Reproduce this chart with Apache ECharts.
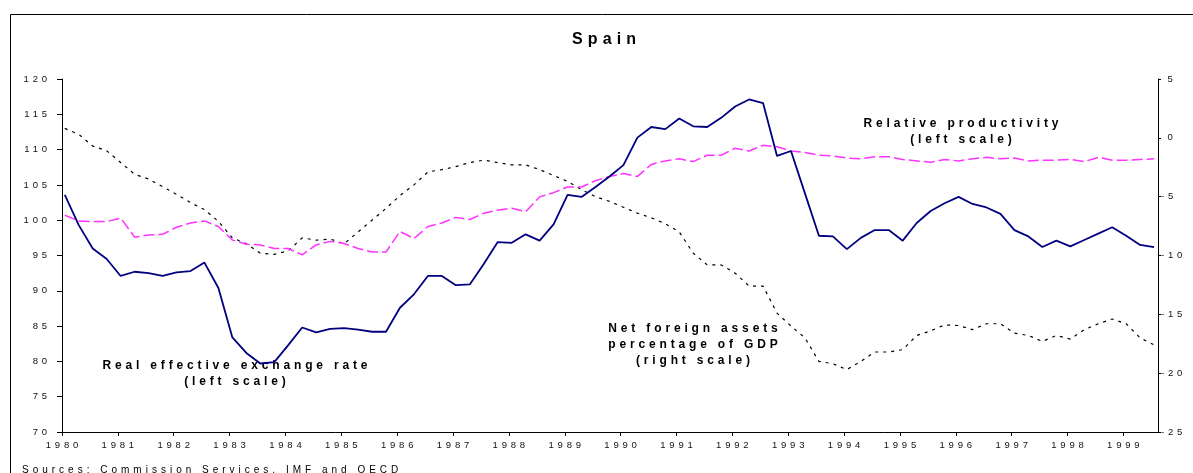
<!DOCTYPE html>
<html>
<head>
<meta charset="utf-8">
<script src="https://cdn.jsdelivr.net/npm/echarts@6/dist/echarts.min.js"></script>
<style>
html,body{margin:0;padding:0;background:#fff;}
#chart{width:1193px;height:473px;}
</style>
</head>
<body>
<div id="chart"></div>
<script>
// ---- Data (quarterly, 1980Q1 .. 1999Q3) ----
const startYear = 1980;
const quarterCount = 79;
const quarters = Array.from({length: quarterCount}, (_, i) => (startYear + Math.floor(i / 4)) + 'Q' + (i % 4 + 1));

// Real effective exchange rate (left scale)
const reer = [
  103.6, 99.3, 96.0, 94.5, 92.1, 92.7, 92.5, 92.1, 92.6, 92.8, 94.0, 90.4,
  83.4, 81.2, 79.7, 79.9, 82.3, 84.8, 84.1, 84.6, 84.7, 84.5, 84.2, 84.2,
  87.6, 89.5, 92.1, 92.1, 90.8, 90.9, 93.8, 96.9, 96.8, 98.0, 97.1, 99.4,
  103.6, 103.3, 104.7, 106.2, 107.8, 111.7, 113.2, 112.9, 114.4, 113.3, 113.2, 114.5,
  116.1, 117.1, 116.6, 109.1, 109.8, 103.8, 97.8, 97.7, 95.9, 97.5, 98.6, 98.6,
  97.1, 99.6, 101.3, 102.4, 103.3, 102.3, 101.8, 100.9, 98.6, 97.7, 96.2, 97.1,
  96.3, 97.2, 98.1, 99.0, 97.8, 96.5, 96.2
];

// Relative productivity (left scale)
const productivity = [
  100.7, 99.9, 99.8, 99.8, 100.3, 97.6, 97.9, 98.0, 99.0, 99.6, 99.9, 99.1,
  97.2, 96.6, 96.5, 96.0, 96.0, 95.1, 96.5, 97.0, 96.7, 96.0, 95.5, 95.5,
  98.4, 97.4, 99.1, 99.6, 100.4, 100.1, 101.0, 101.4, 101.7, 101.2, 103.3, 103.9,
  104.7, 104.7, 105.6, 106.2, 106.6, 106.2, 107.9, 108.4, 108.7, 108.3, 109.2, 109.2,
  110.2, 109.8, 110.6, 110.4, 109.8, 109.6, 109.2, 109.1, 108.8, 108.7, 109.0, 109.0,
  108.6, 108.4, 108.2, 108.6, 108.4, 108.7, 108.9, 108.7, 108.8, 108.4, 108.5, 108.5,
  108.6, 108.3, 108.9, 108.5, 108.5, 108.6, 108.7
];

// Net foreign assets, % of GDP (right scale)
const netForeignAssets = [
  0.8, 0.3, -0.7, -1.1, -2.1, -3.1, -3.5, -4.15, -4.8, -5.5, -6.1, -7.1,
  -8.5, -9.0, -9.8, -9.9, -9.6, -8.5, -8.7, -8.6, -9.0, -8.0, -7.0, -6.0,
  -4.9, -4.0, -2.9, -2.7, -2.45, -2.1, -1.9, -2.1, -2.3, -2.3, -2.7, -3.2,
  -3.7, -4.4, -5.0, -5.4, -5.9, -6.4, -6.8, -7.3, -8.0, -9.8, -10.8, -10.8,
  -11.5, -12.6, -12.6, -14.9, -16.0, -17.0, -19.0, -19.2, -19.7, -19.0, -18.2, -18.2,
  -18.0, -16.8, -16.4, -15.9, -15.95, -16.3, -15.8, -15.8, -16.6, -16.8, -17.3, -16.8,
  -17.1, -16.3, -15.8, -15.4, -15.8, -17.0, -17.6
];

// Axis ticks
const yearTicks = {min: 1980, max: 1999.62, interval: 1};
const leftTicks = {min: 70, max: 120, interval: 5};
const rightTicks = {min: -25, max: 5, interval: 5};

// Position of each quarter on the time axis (observation date within the year)
function quarterPos(label) {
  const y = parseInt(label.slice(0, 4), 10);
  const q = parseInt(label.slice(5), 10);
  return y + (q - 1) / 4 + 0.05;
}
const pairs = (vals) => vals.map((v, i) => [quarterPos(quarters[i]), v]);

// ---- Letter-spaced text, like the reference ----
(function () {
  const proto = CanvasRenderingContext2D.prototype;
  const orig = proto.fillText;
  if (!('letterSpacing' in proto)) return;
  proto.fillText = function (t, x, y, mw) {
    const m = /(\d+(?:\.\d+)?)px/.exec(this.font);
    const fs = m ? parseFloat(m[1]) : 12;
    const bold = /bold|[6-9]00/.test(this.font);
    const ls = fs * (bold ? 0.32 : 0.4);
    const prev = this.letterSpacing;
    this.letterSpacing = ls.toFixed(2) + 'px';
    let dx = 0;
    if (this.textAlign === 'center') dx = ls / 2;
    else if (this.textAlign === 'right' || this.textAlign === 'end') dx = ls;
    let r;
    if (mw === undefined) r = orig.call(this, t, x + dx, y);
    else r = orig.call(this, t, x + dx, y, mw);
    this.letterSpacing = prev;
    return r;
  };
})();

const FONT = '"Liberation Sans", Arial, sans-serif';
const chart = echarts.init(document.getElementById('chart'), null, {renderer: 'canvas'});

const axisLineStyle = {color: '#000', width: 1};

chart.setOption({
  animation: false,
  backgroundColor: '#fff',
  grid: {left: 62, right: 35, top: 79, bottom: 41, containLabel: false},
  xAxis: {
    type: 'value',
    min: yearTicks.min,
    max: yearTicks.max,
    interval: yearTicks.interval,
    axisLine: {show: true, onZero: false, lineStyle: axisLineStyle},
    axisTick: {show: true, length: 4, lineStyle: axisLineStyle},
    splitLine: {show: false},
    axisLabel: {
      fontFamily: FONT, fontSize: 9.5, color: '#111', margin: 8,
      showMaxLabel: false,
      formatter: v => (Math.abs(v - Math.round(v)) < 1e-6 ? String(Math.round(v)) : '')
    }
  },
  yAxis: [
    {
      type: 'value', position: 'left',
      min: leftTicks.min, max: leftTicks.max, interval: leftTicks.interval,
      axisLine: {show: true, onZero: false, lineStyle: axisLineStyle},
      axisTick: {show: true, length: 5, lineStyle: axisLineStyle},
      splitLine: {show: false},
      axisLabel: {fontFamily: FONT, fontSize: 9.5, color: '#111', margin: 15}
    },
    {
      type: 'value', position: 'right',
      min: rightTicks.min, max: rightTicks.max, interval: rightTicks.interval,
      axisLine: {show: true, onZero: false, lineStyle: axisLineStyle},
      axisTick: {show: true, length: 3, lineStyle: axisLineStyle},
      splitLine: {show: false},
      axisLabel: {
        fontFamily: FONT, fontSize: 9.5, color: '#111', margin: 3,
        formatter: v => (v >= 0 ? ' ' : '') + v
      }
    }
  ],
  series: [
    {
      name: 'Net foreign assets', type: 'line', yAxisIndex: 1,
      data: pairs(netForeignAssets), showSymbol: false, symbol: 'none',
      lineStyle: {color: '#000', width: 1.2, type: [3, 5]}, z: 2
    },
    {
      name: 'Relative productivity', type: 'line', yAxisIndex: 0,
      data: pairs(productivity), showSymbol: false, symbol: 'none',
      lineStyle: {color: '#ff33ff', width: 1.5, type: [11, 4]}, z: 3
    },
    {
      name: 'Real effective exchange rate', type: 'line', yAxisIndex: 0,
      data: pairs(reer), showSymbol: false, symbol: 'none',
      lineStyle: {color: '#000080', width: 1.8}, z: 4
    }
  ],
  graphic: [
    {type: 'rect', silent: true, z: -10,
     shape: {x: 10.5, y: 14.5, width: 1400, height: 700},
     style: {fill: 'none', stroke: '#000', lineWidth: 1}},
    {type: 'text', x: 604, y: 40, style: {text: 'Spain', fontFamily: FONT, fontSize: 16, fontWeight: 'bold', fill: '#000', textAlign: 'center', textVerticalAlign: 'middle'}},
    {type: 'text', x: 235, y: 366, style: {text: 'Real effective exchange rate', fontFamily: FONT, fontSize: 12, fontWeight: 'bold', fill: '#000', textAlign: 'center', textVerticalAlign: 'middle'}},
    {type: 'text', x: 235, y: 382, style: {text: '(left scale)', fontFamily: FONT, fontSize: 12, fontWeight: 'bold', fill: '#000', textAlign: 'center', textVerticalAlign: 'middle'}},
    {type: 'text', x: 693, y: 329, style: {text: 'Net foreign assets', fontFamily: FONT, fontSize: 12, fontWeight: 'bold', fill: '#000', textAlign: 'center', textVerticalAlign: 'middle'}},
    {type: 'text', x: 693, y: 345, style: {text: 'percentage of GDP', fontFamily: FONT, fontSize: 12, fontWeight: 'bold', fill: '#000', textAlign: 'center', textVerticalAlign: 'middle'}},
    {type: 'text', x: 693, y: 361, style: {text: '(right scale)', fontFamily: FONT, fontSize: 12, fontWeight: 'bold', fill: '#000', textAlign: 'center', textVerticalAlign: 'middle'}},
    {type: 'text', x: 961, y: 124, style: {text: 'Relative productivity', fontFamily: FONT, fontSize: 12, fontWeight: 'bold', fill: '#000', textAlign: 'center', textVerticalAlign: 'middle'}},
    {type: 'text', x: 961, y: 140, style: {text: '(left scale)', fontFamily: FONT, fontSize: 12, fontWeight: 'bold', fill: '#000', textAlign: 'center', textVerticalAlign: 'middle'}},
    {type: 'text', x: 22, y: 470, style: {text: 'Sources: Commission Services, IMF and OECD', fontFamily: FONT, fontSize: 10, fill: '#000', textAlign: 'left', textVerticalAlign: 'middle'}}
  ]
});
</script>
</body>
</html>
